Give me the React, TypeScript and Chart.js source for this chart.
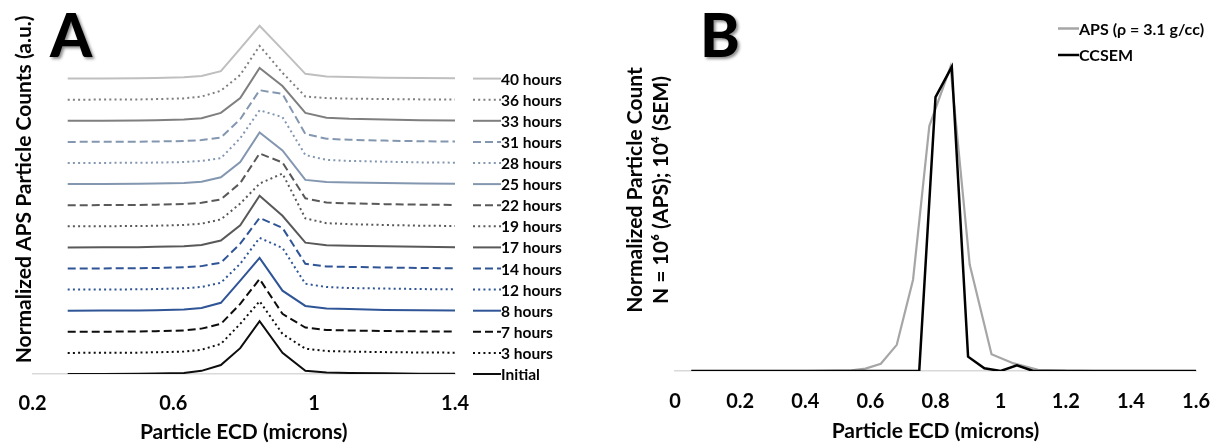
import { useEffect, useRef } from "react";
import { Chart, registerables } from "chart.js";

Chart.register(...registerables);

const FONT = "Lato, 'Open Sans', 'DejaVu Sans', sans-serif";
const TEXT = "#050505";

// ---------- Panel A data ----------
const A_TICKS = [0.2, 0.6, 1, 1.4];
const A_TICK_LABELS = ["0.2", "0.6", "1", "1.4"];
const A_X = [0.3, 0.4, 0.5, 0.55, 0.63, 0.68, 0.735, 0.79, 0.845, 0.91, 0.975, 1.035, 1.1, 1.2, 1.3, 1.4];
const A_OFFSET_STEP = 0.4;
const A_LABELS = [
  "Initial", "3 hours", "7 hours", "8 hours", "12 hours", "14 hours", "17 hours", "19 hours",
  "22 hours", "25 hours", "28 hours", "31 hours", "33 hours", "36 hours", "40 hours",
];
const INITIAL = [0, 0.002, 0.005, 0.01, 0.02, 0.06, 0.17, 0.49, 1.0, 0.4, 0.06, 0.03, 0.02, 0.012, 0.006, 0.003];
const H3 = [0, 0.002, 0.005, 0.012, 0.025, 0.06, 0.17, 0.55, 0.98, 0.36, 0.08, 0.035, 0.025, 0.015, 0.008, 0.004];
const H7 = [0, 0.002, 0.006, 0.012, 0.025, 0.06, 0.15, 0.53, 1.0, 0.34, 0.08, 0.035, 0.025, 0.015, 0.008, 0.004];
const H8 = [0, 0.002, 0.005, 0.01, 0.025, 0.05, 0.15, 0.57, 1.0, 0.38, 0.09, 0.04, 0.03, 0.015, 0.008, 0.004];
const H12 = [0, 0.002, 0.005, 0.01, 0.025, 0.05, 0.13, 0.49, 0.98, 0.79, 0.11, 0.05, 0.03, 0.02, 0.01, 0.005];
const H14 = [0, 0.002, 0.005, 0.01, 0.022, 0.045, 0.11, 0.47, 0.96, 0.77, 0.09, 0.04, 0.03, 0.02, 0.01, 0.005];
const H17 = [0, 0.002, 0.005, 0.01, 0.022, 0.045, 0.13, 0.42, 0.98, 0.6, 0.09, 0.04, 0.03, 0.02, 0.01, 0.005];
const H19 = [0, 0.002, 0.005, 0.01, 0.025, 0.05, 0.13, 0.43, 0.81, 1.0, 0.15, 0.06, 0.04, 0.025, 0.012, 0.006];
const H22 = [0, 0.002, 0.005, 0.01, 0.022, 0.045, 0.11, 0.42, 0.98, 0.81, 0.13, 0.05, 0.035, 0.02, 0.01, 0.005];
const H25 = [0, 0.002, 0.005, 0.01, 0.022, 0.045, 0.13, 0.42, 0.98, 0.64, 0.08, 0.04, 0.03, 0.02, 0.01, 0.005];
const H28 = [0, 0.002, 0.004, 0.008, 0.018, 0.04, 0.09, 0.47, 1.0, 0.87, 0.15, 0.06, 0.04, 0.025, 0.012, 0.006];
const H31 = [0, 0.002, 0.004, 0.008, 0.016, 0.035, 0.08, 0.43, 0.98, 0.91, 0.15, 0.06, 0.04, 0.025, 0.012, 0.006];
const H33 = [0, 0.002, 0.005, 0.012, 0.025, 0.05, 0.15, 0.43, 1.0, 0.66, 0.15, 0.06, 0.04, 0.025, 0.012, 0.006];
const H36 = [0, 0.002, 0.005, 0.012, 0.025, 0.06, 0.17, 0.47, 1.02, 0.51, 0.06, 0.03, 0.02, 0.012, 0.006, 0.003];
const H40 = [0, 0.002, 0.005, 0.012, 0.025, 0.05, 0.14, 0.57, 1.0, 0.55, 0.09, 0.04, 0.03, 0.018, 0.01, 0.005];
const A_SERIES = [INITIAL, H3, H7, H8, H12, H14, H17, H19, H22, H25, H28, H31, H33, H36, H40];

const BLACK = "#0d0d0d";
const BLUE = "#2f5597";
const DARKGRAY = "#595959";
const BLUEGRAY = "#8497b0";
const GRAY = "#7f7f7f";
const LIGHTGRAY = "#bfbfbf";
const A_COLORS = [
  BLACK, BLACK, BLACK, BLUE, BLUE, BLUE, DARKGRAY, DARKGRAY, DARKGRAY,
  BLUEGRAY, BLUEGRAY, BLUEGRAY, GRAY, GRAY, LIGHTGRAY,
];
const A_STYLES = [
  "solid", "dot", "dash", "solid", "dot", "dash", "solid", "dot", "dash",
  "solid", "dot", "dash", "solid", "dot", "solid",
];
const DASHES: Record<string, number[]> = { solid: [], dot: [2, 3.2], dash: [8, 4] };

// ---------- Panel B data ----------
const B_TICKS = [0, 0.2, 0.4, 0.6, 0.8, 1, 1.2, 1.4, 1.6];
const B_TICK_LABELS = ["0", "0.2", "0.4", "0.6", "0.8", "1", "1.2", "1.4", "1.6"];
const B_APS_X = [0.05, 0.1, 0.2, 0.3, 0.4, 0.5, 0.542, 0.585, 0.632, 0.681, 0.731, 0.781, 0.846, 0.905, 0.972, 1.04, 1.115, 1.2, 1.29, 1.385, 1.49, 1.6];
const B_APS_Y = [0, 0, 0, 0, 0, 0.001, 0.002, 0.008, 0.024, 0.086, 0.3, 0.805, 1.0, 0.35, 0.055, 0.025, 0.004, 0.001, 0, 0, 0, 0];
const B_SEM_X = [
  0.05, 0.1, 0.15, 0.2, 0.25, 0.3, 0.35, 0.4, 0.45, 0.5, 0.55, 0.6, 0.65, 0.7, 0.75, 0.8,
  0.85, 0.9, 0.95, 1.0, 1.05, 1.1, 1.15, 1.2, 1.25, 1.3, 1.35, 1.4, 1.45, 1.5, 1.55, 1.6,
];
const B_SEM_Y = [
  0, 0, 0, 0, 0, 0, 0, 0, 0, 0, 0, 0, 0, 0, 0, 0.9,
  1.0, 0.047, 0.009, 0, 0.019, 0, 0, 0, 0, 0, 0, 0, 0, 0, 0, 0,
];
const B_LABELS = ["APS (ρ = 3.1 g/cc)", "CCSEM"];
const B_COLORS = ["#a6a6a6", "#000000"];

function letterPlugin(letter: string, x: number, y: number) {
  return {
    id: "panelLetter" + letter,
    afterDraw(chart: any) {
      const ctx = chart.ctx;
      ctx.save();
      ctx.font = `900 60px ${FONT}`;
      ctx.textAlign = "left";
      ctx.textBaseline = "alphabetic";
      ctx.shadowColor = "rgba(0,0,0,0.45)";
      ctx.shadowOffsetX = 2;
      ctx.shadowOffsetY = 2;
      ctx.shadowBlur = 3;
      ctx.fillStyle = "#000";
      ctx.fillText(letter, x, y);
      ctx.restore();
    },
  };
}

const legendAPlugin = {
  id: "legendA",
  afterDatasetsDraw(chart: any) {
    const ctx = chart.ctx;
    const ys = chart.scales.y;
    const x0 = chart.chartArea.right + 18;
    ctx.save();
    chart.data.datasets.forEach((ds: any, i: number) => {
      const py = ys.getPixelForValue(i * A_OFFSET_STEP);
      ctx.beginPath();
      ctx.setLineDash(ds.borderDash || []);
      ctx.strokeStyle = ds.borderColor;
      ctx.lineWidth = 2;
      ctx.moveTo(x0, py);
      ctx.lineTo(x0 + 28, py);
      ctx.stroke();
      ctx.setLineDash([]);
      ctx.fillStyle = TEXT;
      ctx.font = `bold 15.5px ${FONT}`;
      ctx.textAlign = "left";
      ctx.textBaseline = "middle";
      ctx.fillText(ds.label, x0 + 28, py + 1);
    });
    ctx.restore();
  },
};

const legendBPlugin = {
  id: "legendB",
  afterDatasetsDraw(chart: any) {
    const ctx = chart.ctx;
    ctx.save();
    const rows = [28.5, 55];
    chart.data.datasets.forEach((ds: any, i: number) => {
      const py = rows[i];
      ctx.beginPath();
      ctx.strokeStyle = ds.borderColor;
      ctx.lineWidth = 2.5;
      ctx.moveTo(443, py);
      ctx.lineTo(464, py);
      ctx.stroke();
      ctx.fillStyle = TEXT;
      ctx.font = `bold 16px ${FONT}`;
      ctx.textAlign = "left";
      ctx.textBaseline = "middle";
      ctx.fillText(ds.label, 464, py + 1);
    });
    ctx.restore();
  },
};

const tickFont = { family: FONT, size: 20, weight: "bold" as const };
const titleFont = { family: FONT, size: 21, weight: "bold" as const };

function PanelA() {
  const ref = useRef<HTMLCanvasElement>(null);
  useEffect(() => {
    if (!ref.current) return;
    const chart = new Chart(ref.current, {
      type: "line",
      data: {
        datasets: A_SERIES.map((vals, i) => ({
          label: A_LABELS[i],
          data: A_X.map((x, j) => ({ x, y: vals[j] + i * A_OFFSET_STEP })),
          borderColor: A_COLORS[i],
          borderDash: DASHES[A_STYLES[i]],
          borderWidth: 2,
          pointRadius: 0,
          fill: false,
          tension: 0,
        })),
      },
      options: {
        animation: false,
        responsive: false,
        layout: { padding: { top: 4.75, right: 160, bottom: 0, left: 0 } },
        plugins: { legend: { display: false }, tooltip: { enabled: false } },
        scales: {
          x: {
            type: "linear",
            min: 0.2,
            max: 1.4,
            afterBuildTicks: (s: any) => {
              s.ticks = A_TICKS.map((v) => ({ value: v }));
            },
            afterFit: (s: any) => {
              s.height = 71;
            },
            ticks: {
              font: tickFont,
              color: TEXT,
              padding: 18,
              maxRotation: 0,
              callback: (_v: any, i: number) => A_TICK_LABELS[i],
            },
            grid: { display: false, drawTicks: false },
            border: { display: true, color: "#d9d9d9", width: 1.5 },
            title: {
              display: true,
              text: "Particle ECD (microns)",
              font: titleFont,
              color: TEXT,
              padding: { top: 0, bottom: 0 },
            },
          },
          y: {
            type: "linear",
            min: 0,
            max: 7,
            afterFit: (s: any) => {
              s.width = 32.5;
            },
            ticks: { display: false },
            grid: { display: false, drawTicks: false },
            border: { display: false },
            title: {
              display: true,
              text: "Normalized APS Particle Counts (a.u.)",
              font: titleFont,
              color: TEXT,
              padding: { top: 11.4, bottom: 0 },
            },
          },
        },
      },
      plugins: [legendAPlugin, letterPlugin("A", 50, 57)],
    });
    return () => chart.destroy();
  }, []);
  return <canvas ref={ref} width={615} height={445} style={{ position: "absolute", left: 0, top: 0 }} />;
}

function PanelB() {
  const ref = useRef<HTMLCanvasElement>(null);
  useEffect(() => {
    if (!ref.current) return;
    const chart = new Chart(ref.current, {
      type: "line",
      data: {
        datasets: [
          {
            label: B_LABELS[0],
            data: B_APS_X.map((x, j) => ({ x, y: B_APS_Y[j] })),
            borderColor: B_COLORS[0],
            borderWidth: 2.2,
            pointRadius: 0,
            fill: false,
            tension: 0,
            order: 2,
          },
          {
            label: B_LABELS[1],
            data: B_SEM_X.map((x, j) => ({ x, y: B_SEM_Y[j] })),
            borderColor: B_COLORS[1],
            borderWidth: 2.5,
            pointRadius: 0,
            fill: false,
            tension: 0,
            order: 1,
          },
        ],
      },
      options: {
        animation: false,
        responsive: false,
        layout: { padding: { top: 9, right: 18, bottom: 0, left: 0 } },
        plugins: { legend: { display: false }, tooltip: { enabled: false } },
        scales: {
          x: {
            type: "linear",
            min: 0,
            max: 1.6,
            afterBuildTicks: (s: any) => {
              s.ticks = B_TICKS.map((v) => ({ value: v }));
            },
            afterFit: (s: any) => {
              s.height = 74;
            },
            ticks: {
              font: tickFont,
              color: TEXT,
              padding: 19,
              maxRotation: 0,
              autoSkip: false,
              callback: (_v: any, i: number) => B_TICK_LABELS[i],
            },
            grid: { display: false, drawTicks: false },
            border: { display: true, color: "#d9d9d9", width: 1.5 },
            title: {
              display: true,
              text: "Particle ECD (microns)",
              font: titleFont,
              color: TEXT,
              padding: { top: 0, bottom: 1 },
            },
          },
          y: {
            type: "linear",
            min: 0,
            max: 1.19,
            afterFit: (s: any) => {
              s.width = 60;
            },
            ticks: { display: false },
            grid: { display: false, drawTicks: false },
            border: { display: false },
            title: {
              display: true,
              text: ["Normalized Particle Count", "N = 10⁶ (APS); 10⁴ (SEM)"],
              font: { ...titleFont, lineHeight: 1.27 },
              color: TEXT,
              padding: { top: 6.7, bottom: 0 },
            },
          },
        },
      },
      plugins: [legendBPlugin, letterPlugin("B", 85, 57)],
    });
    return () => chart.destroy();
  }, []);
  return <canvas ref={ref} width={614} height={445} style={{ position: "absolute", left: 615, top: 0 }} />;
}

export default function App() {
  return (
    <div style={{ position: "absolute", left: 0, top: 0, width: 1229, height: 445, background: "#fff", overflow: "hidden" }}>
      <PanelA />
      <PanelB />
    </div>
  );
}
